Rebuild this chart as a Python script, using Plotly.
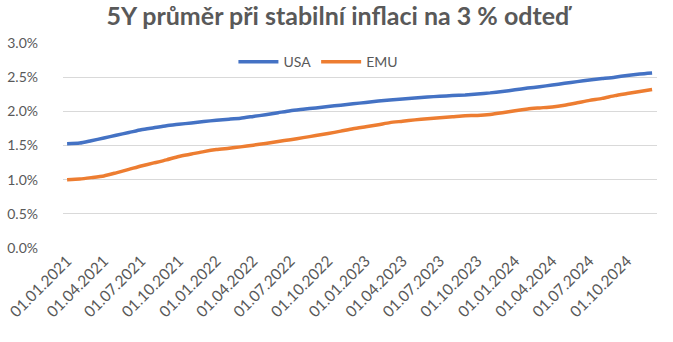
import pandas as pd
import plotly.graph_objects as go

dates = pd.date_range("2021-01-01", "2024-12-01", freq="MS")

usa = [1.525, 1.535, 1.57, 1.61, 1.65, 1.69, 1.73, 1.76, 1.79, 1.81, 1.83, 1.85,
       1.87, 1.885, 1.90, 1.925, 1.95, 1.98, 2.01, 2.03, 2.05, 2.07, 2.09, 2.11,
       2.13, 2.15, 2.165, 2.18, 2.195, 2.21, 2.22, 2.23, 2.24, 2.255, 2.27, 2.29,
       2.315, 2.34, 2.36, 2.385, 2.41, 2.435, 2.46, 2.48, 2.50, 2.525, 2.545, 2.56]

emu = [1.00, 1.01, 1.03, 1.055, 1.10, 1.15, 1.20, 1.245, 1.29, 1.34, 1.375, 1.41,
       1.44, 1.46, 1.48, 1.505, 1.53, 1.56, 1.585, 1.615, 1.645, 1.675, 1.71, 1.745,
       1.775, 1.805, 1.835, 1.855, 1.875, 1.89, 1.905, 1.92, 1.935, 1.94, 1.955, 1.98,
       2.01, 2.035, 2.05, 2.065, 2.09, 2.125, 2.16, 2.19, 2.23, 2.26, 2.29, 2.32]

series_names = ["USA", "EMU"]
colors = ["#4472C4", "#ED7D31"]
title_text = "5Y průměr při stabilní inflaci na 3 % odteď"

fig = go.Figure()
for name, vals, col in zip(series_names, [usa, emu], colors):
    fig.add_trace(go.Scatter(
        x=dates, y=[v / 100 for v in vals], mode="lines", name=name,
        line=dict(color=col, width=3.5, shape="spline", smoothing=0.6),
    ))

font_family = "Lato, 'Open Sans', sans-serif"
fig.update_layout(
    width=673, height=342,
    margin=dict(l=63, r=16, t=43, b=94),
    paper_bgcolor="white", plot_bgcolor="white",
    font=dict(family=font_family, color="#595959", size=14),
    title=dict(text="<b>" + title_text + "</b>", x=0.502, xanchor="center",
               y=1 - 16 / 342, yanchor="middle",
               font=dict(size=25, color="#595959", family=font_family)),
    legend=dict(orientation="h", x=0.43, xanchor="center", y=0.907, yanchor="middle",
                bgcolor="rgba(0,0,0,0)", font=dict(size=14, color="#595959"),
                itemwidth=40, tracegroupgap=0),
    showlegend=True,
)
fig.update_xaxes(
    type="date", range=["2020-12-22", "2024-12-13"], automargin=False,
    tick0="2021-01-01", dtick="M3", tickformat="%d.%m.%Y", tickangle=-45,
    showgrid=False, showline=False, zeroline=False, ticks="",
    tickfont=dict(size=15.5, color="#595959"),
)
fig.update_yaxes(
    range=[0, 0.03], dtick=0.005, tickformat=".1%", automargin=False,
    showgrid=True, gridcolor="#D9D9D9", gridwidth=1, zeroline=False,
    showline=False, ticks="", ticklabelstandoff=24,
    tickfont=dict(size=14, color="#595959"),
)
fig.write_html("out.html")
